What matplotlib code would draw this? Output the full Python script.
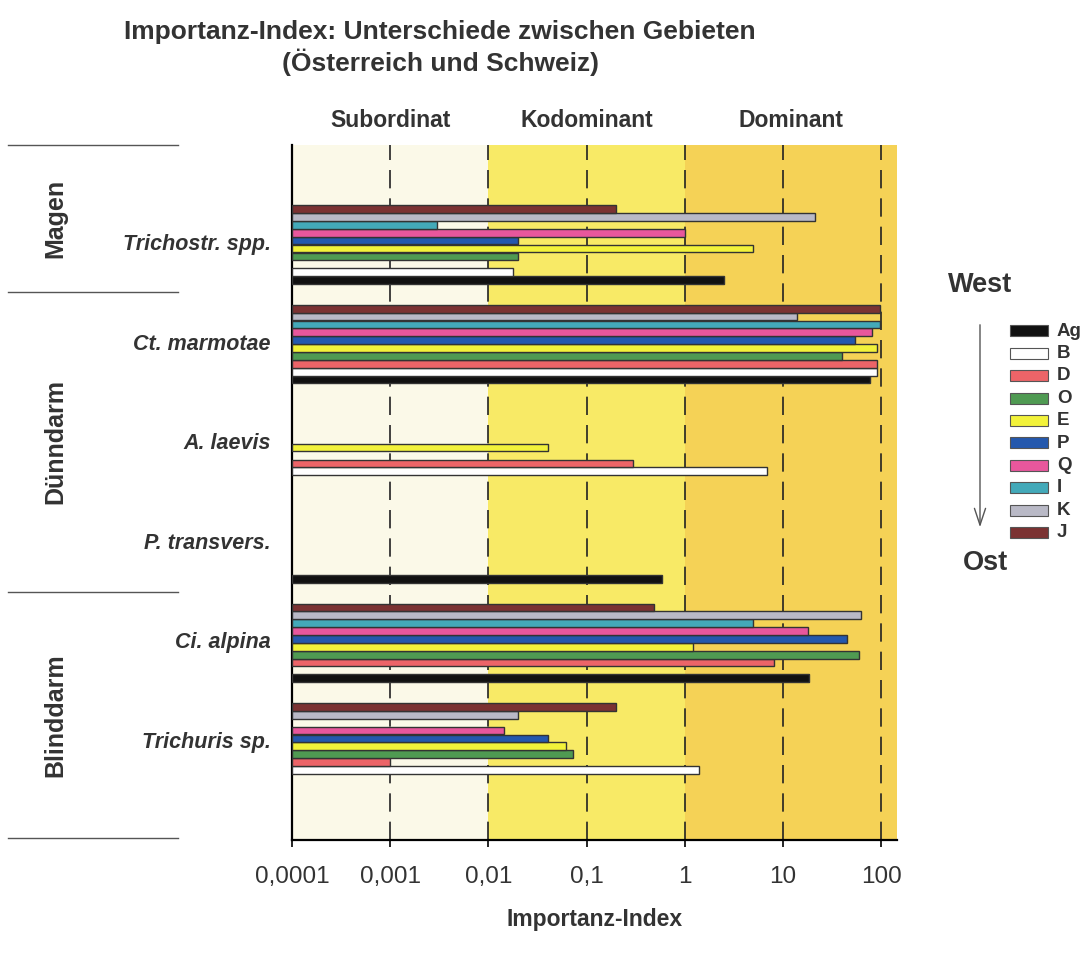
import matplotlib
matplotlib.use("Agg")
import matplotlib.pyplot as plt
from matplotlib.lines import Line2D
from matplotlib.patches import Rectangle

plt.rcParams['font.family'] = ['Liberation Sans', 'DejaVu Sans']

# species (top to bottom) and values per region
species = ["Trichostr. spp.", "Ct. marmotae", "A. laevis", "P. transvers.", "Ci. alpina", "Trichuris sp."]
regions = ["Ag", "B", "D", "O", "E", "P", "Q", "I", "K", "J"]
ag = [2.5, 77, 0, 0.59, 18.6, 0]
b = [0.018, 91, 6.8, 0, 0, 1.4]
d = [0, 91, 0.3, 0, 8.1, 0.001]
o = [0.02, 40, 0, 0, 59, 0.072]
e = [5, 91, 0.04, 0, 1.2, 0.062]
p = [0.02, 54, 0, 0, 45, 0.04]
q = [1.0, 81, 0, 0, 18, 0.0145]
i_ = [0.003, 97, 0, 0, 4.9, 0]
k = [21, 14, 0, 0, 62, 0.02]
j = [0.2, 98, 0, 0, 0.49, 0.2]
values = [ag, b, d, o, e, p, q, i_, k, j]
colors = ["#111111", "#ffffff", "#ec6468", "#4f9a52", "#f2f23a",
          "#2458ad", "#e8579c", "#43a9b9", "#b9b9c6", "#7b3232"]

ticks = [0.0001, 0.001, 0.01, 0.1, 1, 10, 100]
tick_labels = ["0,0001", "0,001", "0,01", "0,1", "1", "10", "100"]
bands = [(0.0001, 0.01, "#fbf9e8", "Subordinat"),
         (0.01, 1, "#f8ea66", "Kodominant"),
         (1, 145, "#f5d256", "Dominant")]
groups = [("Magen", 145, 292), ("Dünndarm", 292, 592), ("Blinddarm", 592, 838)]

W, H = 1080, 955
fig = plt.figure(figsize=(W / 100, H / 100), dpi=100)
txt = "#333333"


def fx(x):
    return x / W


def fy(y):
    return 1 - y / H


ax = fig.add_axes([fx(292), fy(840), fx(897) - fx(292), fy(145) - fy(840)])
ax.set_xscale("log")
xmax = 145
ax.set_xlim(1e-4, xmax)
ax.set_ylim(5.98, -1.0)

for lo, hi, col, lab in bands:
    ax.axvspan(lo, hi, color=col, zorder=0, lw=0)
for t in ticks[1:]:
    ax.axvline(t, color="#222222", lw=1.2, ls=(0, (11, 6)), zorder=1)

slot = 0.079
for r, (vals, col) in enumerate(zip(values, colors)):
    off = (4.5 - r) * slot
    for s, v in enumerate(vals):
        if v <= 0:
            continue
        ax.barh(s + off, v - 1e-4, left=1e-4, height=slot * 0.98,
                color=col, edgecolor="#333333", lw=1.0, zorder=3)

ax.set_xticks(ticks)
ax.set_xticklabels(tick_labels, fontsize=17.5, color=txt)
ax.xaxis.set_minor_locator(matplotlib.ticker.NullLocator())
ax.tick_params(axis="x", length=5, width=1.2, direction="out", pad=14)
ax.set_yticks([])
for sp in ["top", "right"]:
    ax.spines[sp].set_visible(False)
ax.spines["left"].set_linewidth(1.6)
ax.spines["bottom"].set_linewidth(1.6)
ax.set_xlabel("Importanz-Index", fontsize=16.5, fontweight="bold",
              color=txt, labelpad=14)

# band labels above axes
for lo, hi, col, lab in bands:
    xc = (lo * hi) ** 0.5
    ax.text(xc, -1.25, lab, ha="center", va="center", fontsize=16.5,
            fontweight="bold", color=txt)

# species labels
for s, name in enumerate(species):
    ax.text(-0.035, s, name, transform=ax.get_yaxis_transform(),
            ha="right", va="center", fontsize=15.5, fontweight="bold",
            style="italic", color=txt)

# group panel on the left
for yy in [145, 292, 592, 838]:
    fig.add_artist(Line2D([fx(8), fx(178)], [fy(yy), fy(yy)],
                          color="#555555", lw=1.0))
for name, y0, y1 in groups:
    fig.text(fx(55), fy((y0 + y1) / 2), name, rotation=90, ha="center",
             va="center", fontsize=18, fontweight="bold", color=txt)

# title
fig.text(fx(440), fy(32), "Importanz-Index: Unterschiede zwischen Gebieten",
         ha="center", va="center", fontsize=19, fontweight="bold", color=txt)
fig.text(fx(440), fy(62), "(Österreich und Schweiz)",
         ha="center", va="center", fontsize=19, fontweight="bold", color=txt)

# legend with West -> Ost arrow
fig.text(fx(980), fy(285), "West", ha="center", va="center", fontsize=19.5,
         fontweight="bold", color=txt)
fig.text(fx(986), fy(563), "Ost", ha="center", va="center", fontsize=19.5,
         fontweight="bold", color=txt)
fig.add_artist(matplotlib.patches.FancyArrowPatch(
    (fx(980), fy(322)), (fx(980), fy(530)), transform=fig.transFigure,
    arrowstyle="->,head_length=12,head_width=4", color="#555555", lw=1.0))
for r, (reg, col) in enumerate(zip(regions, colors)):
    yy = 331 + r * 22.4
    fig.add_artist(Rectangle((fx(1010), fy(yy + 5.5)), fx(38), 11 / H,
                             transform=fig.transFigure, facecolor=col,
                             edgecolor="#555555", lw=0.8))
    fig.text(fx(1057), fy(yy), reg, ha="left", va="center", fontsize=13.5,
             fontweight="bold", color=txt)

fig.savefig("out.png", dpi=100, facecolor="white")
